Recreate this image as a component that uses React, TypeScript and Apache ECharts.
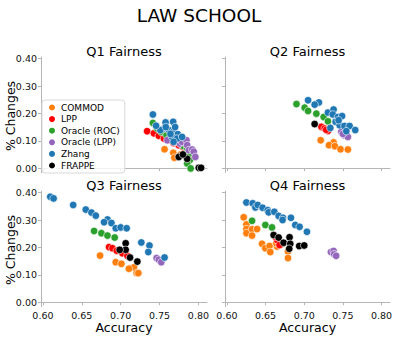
import React, { useEffect, useRef } from 'react';
import * as echarts from 'echarts';

const METHODS = ['COMMOD', 'LPP', 'Oracle (ROC)', 'Oracle (LPP)', 'Zhang', 'FRAPPE'];
const COLORS = ['#ff7f0e', '#ff0000', '#2ca02c', '#9467bd', '#1f77b4', '#000000'];
const PANEL_TITLES = ['Q1 Fairness', 'Q2 Fairness', 'Q3 Fairness', 'Q4 Fairness'];
const X_TICKS = [0.6, 0.65, 0.7, 0.75, 0.8];
const Y_TICKS = [0, 0.1, 0.2, 0.3, 0.4];
const X_MIN = 0.5975;
const X_MAX = 0.811;
const Y_MIN = -0.016;
const Y_MAX = 0.406;

// Q1
const q1Commod = [[0.7564, 0.069], [0.7676, 0.056], [0.769, 0.038], [0.777, 0.05]];
const q1Lpp = [[0.734, 0.135], [0.7427, 0.127], [0.749, 0.118], [0.7556, 0.108], [0.762, 0.102], [0.768, 0.092], [0.7747, 0.084], [0.781, 0.075]];
const q1OracleRoc = [[0.7414, 0.165], [0.747, 0.145], [0.752, 0.133], [0.759, 0.12], [0.766, 0.106], [0.772, 0.097], [0.777, 0.09], [0.781, 0.08], [0.7855, 0.072], [0.7876, 0.047], [0.789, 0.03], [0.7855, 0.017], [0.79, -0.001]];
const q1OracleLpp = [[0.76, 0.102], [0.7705, 0.098], [0.776, 0.09], [0.779, 0.096], [0.7846, 0.102], [0.7855, 0.084], [0.7876, 0.066], [0.792, 0.068], [0.794, 0.06], [0.796, 0.041]];
const q1Zhang = [[0.7414, 0.196], [0.7577, 0.167], [0.7675, 0.169], [0.7556, 0.145], [0.762, 0.139], [0.768, 0.133], [0.7735, 0.124], [0.766, 0.114], [0.7727, 0.108], [0.779, 0.114], [0.768, 0.096], [0.751, 0.139], [0.7455, 0.155], [0.77, 0.15], [0.764, 0.125], [0.758, 0.15]];
const q1Frappe = [[0.7747, 0.041], [0.7855, 0.034], [0.78, 0.05], [0.8004, 0.001], [0.8034, 0.001]];

// Q2
const q2Commod = [[0.7213, 0.102], [0.738, 0.094], [0.732, 0.084], [0.7397, 0.08], [0.747, 0.069], [0.7565, 0.068]];
const q2Lpp = [[0.7222, 0.151], [0.7265, 0.145], [0.7307, 0.136], [0.7285, 0.14]];
const q2OracleRoc = [[0.69, 0.234], [0.7006, 0.221], [0.705, 0.209], [0.7157, 0.199], [0.7252, 0.187], [0.7307, 0.171]];
const q2OracleLpp = [[0.748, 0.133], [0.752, 0.12], [0.7565, 0.114], [0.75, 0.125]];
const q2Zhang = [[0.705, 0.248], [0.719, 0.24], [0.7135, 0.232], [0.7307, 0.203], [0.738, 0.214], [0.737, 0.196], [0.7437, 0.187], [0.749, 0.19], [0.7406, 0.169], [0.7458, 0.157], [0.752, 0.154], [0.7587, 0.154], [0.766, 0.139], [0.7545, 0.135], [0.7338, 0.147], [0.7445, 0.175]];
const q2Frappe = [[0.7135, 0.161]];

// Q3
const q3Commod = [[0.6735, 0.17], [0.6936, 0.146], [0.7009, 0.14], [0.712, 0.124], [0.717, 0.127], [0.7205, 0.106], [0.7227, 0.106], [0.7105, 0.122]];
const q3Lpp = [[0.685, 0.201], [0.6894, 0.197], [0.695, 0.188], [0.7022, 0.179], [0.7086, 0.169]];
const q3OracleRoc = [[0.6658, 0.26], [0.6752, 0.252], [0.683, 0.243], [0.6923, 0.236]];
const q3OracleLpp = [[0.7462, 0.161], [0.749, 0.155], [0.7522, 0.146]];
const q3Zhang = [[0.6094, 0.385], [0.6137, 0.379], [0.6389, 0.355], [0.6551, 0.338], [0.6624, 0.327], [0.668, 0.316], [0.683, 0.302], [0.6786, 0.292], [0.6881, 0.289], [0.6936, 0.27], [0.7, 0.273], [0.7077, 0.27], [0.7265, 0.218], [0.737, 0.207], [0.7355, 0.183], [0.7564, 0.163]];
const q3Frappe = [[0.7064, 0.215], [0.7064, 0.191], [0.6987, 0.191], [0.712, 0.163], [0.7214, 0.148]];

// Q4
const q4Commod = [[0.6217, 0.31], [0.6252, 0.284], [0.6252, 0.267], [0.6252, 0.252], [0.6325, 0.266], [0.6325, 0.243], [0.639, 0.267], [0.6454, 0.213], [0.6497, 0.197], [0.6552, 0.205], [0.6561, 0.183], [0.6648, 0.203], [0.6639, 0.215], [0.679, 0.185], [0.679, 0.161], [0.6712, 0.212]];
const q4Lpp = [[0.6648, 0.227], [0.6681, 0.209], [0.6626, 0.239]];
const q4OracleRoc = [[0.6325, 0.297], [0.6497, 0.282], [0.6583, 0.273]];
const q4OracleLpp = [[0.7345, 0.183], [0.738, 0.187], [0.7387, 0.175], [0.7413, 0.169]];
const q4Zhang = [[0.6252, 0.364], [0.6333, 0.361], [0.6368, 0.346], [0.6398, 0.355], [0.6462, 0.345], [0.6527, 0.336], [0.654, 0.328], [0.6613, 0.33], [0.6669, 0.315], [0.6725, 0.308], [0.672, 0.3], [0.6828, 0.308], [0.6884, 0.282], [0.694, 0.275], [0.7035, 0.257]];
const q4Frappe = [[0.6604, 0.245], [0.6669, 0.236], [0.6733, 0.217], [0.681, 0.237], [0.6819, 0.213], [0.6806, 0.195], [0.6935, 0.205], [0.7, 0.207]];

const PANEL_DATA = [
  [q1Commod, q1Lpp, q1OracleRoc, q1OracleLpp, q1Zhang, q1Frappe],
  [q2Commod, q2Lpp, q2OracleRoc, q2OracleLpp, q2Zhang, q2Frappe],
  [q3Commod, q3Lpp, q3OracleRoc, q3OracleLpp, q3Zhang, q3Frappe],
  [q4Commod, q4Lpp, q4OracleRoc, q4OracleLpp, q4Zhang, q4Frappe],
];

const FONT = 'DejaVu Sans';
const SPINE = '#b5b5b5';

export default function App() {
  const ref = useRef<HTMLDivElement>(null);
  useEffect(() => {
    if (!ref.current) return;
    const chart = echarts.init(ref.current, undefined, { renderer: 'svg' });
    const lefts = [41, 225, 41, 225];
    const widths = [166, 165, 166, 165];
    const tops = [57, 57, 191, 191];
    const H = 115.5;
    const grid = lefts.map((l, i) => ({ left: l, top: tops[i], width: widths[i], height: H }));
    const xAxis = grid.map((_, i) => ({
      gridIndex: i,
      type: 'value',
      min: X_MIN,
      max: X_MAX,
      axisLine: { show: true, lineStyle: { color: SPINE, width: 1 } },
      axisTick: { show: true, length: 3, customValues: X_TICKS, lineStyle: { color: SPINE } },
      axisLabel: {
        show: i >= 2,
        customValues: X_TICKS,
        formatter: (v: number) => v.toFixed(2),
        fontSize: 9.5,
        color: '#111',
        margin: 4,
        fontFamily: FONT,
      },
      splitLine: { show: false },
    }));
    const yAxis = grid.map((_, i) => ({
      gridIndex: i,
      type: 'value',
      min: Y_MIN,
      max: Y_MAX,
      axisLine: { show: true, lineStyle: { color: SPINE, width: 1 } },
      axisTick: { show: true, length: 3, customValues: Y_TICKS, lineStyle: { color: SPINE } },
      axisLabel: {
        show: i % 2 === 0,
        customValues: Y_TICKS,
        formatter: (v: number) => v.toFixed(2),
        fontSize: 9.5,
        color: '#111',
        margin: 4,
        fontFamily: FONT,
      },
      splitLine: { show: false },
    }));
    const series: any[] = [];
    PANEL_DATA.forEach((panel, i) => {
      panel.forEach((data, j) => {
        series.push({
          type: 'scatter',
          name: METHODS[j],
          xAxisIndex: i,
          yAxisIndex: i,
          data,
          symbolSize: 7.5,
          itemStyle: { color: COLORS[j], borderColor: '#ffffff', borderWidth: 0.6, opacity: 1 },
          z: 2 + j,
        });
      });
    });
    const titleX = [124, 307.5, 124, 307.5];
    const titleY = [51, 51, 185, 185];
    const graphic: any[] = [
      { type: 'text', x: 199, y: 15, style: { text: 'LAW SCHOOL', font: `18.5px "${FONT}"`, fill: '#000', textAlign: 'center', textVerticalAlign: 'middle' } },
      ...PANEL_TITLES.map((t, i) => ({
        type: 'text', x: titleX[i], y: titleY[i],
        style: { text: t, font: `13px "${FONT}"`, fill: '#000', textAlign: 'center', textVerticalAlign: 'middle' },
      })),
      ...[124, 307.5].map((x) => ({
        type: 'text', x, y: 327.5,
        style: { text: 'Accuracy', font: `12.5px "${FONT}"`, fill: '#000', textAlign: 'center', textVerticalAlign: 'middle' },
      })),
      ...[116, 250].map((y) => ({
        type: 'text', x: 10.5, y, rotation: Math.PI / 2,
        style: { text: '% Changes', font: `12.5px "${FONT}"`, fill: '#000', textAlign: 'center', textVerticalAlign: 'middle' },
      })),
    ];
    chart.setOption({
      animation: false,
      backgroundColor: '#fff',
      grid,
      xAxis,
      yAxis,
      series,
      graphic,
      legend: {
        data: METHODS,
        orient: 'vertical',
        left: 42,
        top: 100,
        icon: 'circle',
        itemWidth: 8,
        itemHeight: 8,
        itemGap: 0.6,
        itemTextGap: 7,
        padding: [2, 5, 2, 5],
        textStyle: { fontSize: 9, lineHeight: 11, fontFamily: FONT, color: '#000' },
        borderColor: '#d9d9d9',
        borderWidth: 1,
        borderRadius: 3,
        backgroundColor: 'rgba(255,255,255,0.8)',
        selectedMode: false,
        z: 20,
      },
    });
    return () => chart.dispose();
  }, []);
  return <div ref={ref} style={{ position: 'absolute', left: 0, top: 0, width: 399, height: 339 }} />;
}
